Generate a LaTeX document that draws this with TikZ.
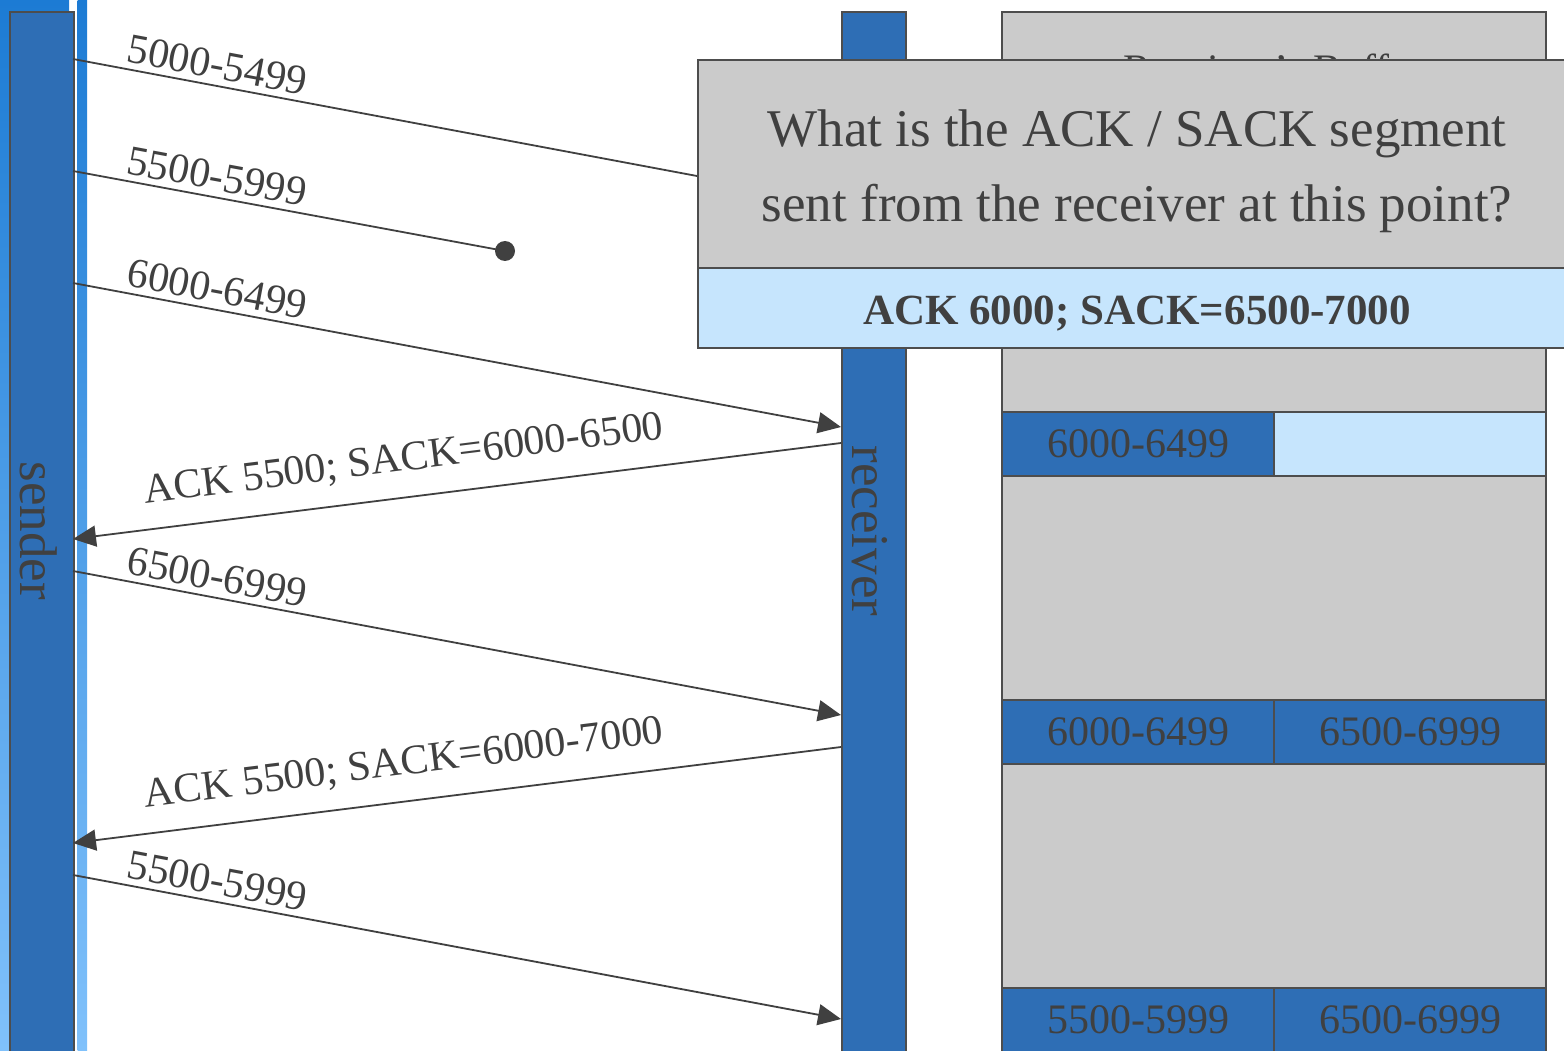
\documentclass[tikz,border=0pt]{standalone}
\usepackage{fontspec}
\setmainfont{Liberation Serif}
\usetikzlibrary{arrows.meta,calc}
\definecolor{barblue}{HTML}{2E6EB5}
\definecolor{bufgray}{HTML}{CBCBCB}
\definecolor{lightblue}{HTML}{C6E5FD}
\definecolor{txt}{HTML}{404040}
\definecolor{edgec}{HTML}{4D4D4D}
\definecolor{bgtop}{HTML}{1C7BD4}
\definecolor{bgbot}{HTML}{80C1FB}
\begin{document}
\begin{tikzpicture}[x=1pt,y=-1pt,
  bar/.style={draw=edgec, line width=2pt, fill=barblue, minimum width=64pt, minimum height=1100pt, inner sep=0pt, anchor=north west},
  msg/.style={draw=txt, line width=1.8pt, -{Triangle[length=23pt,width=21pt]}},
  ack/.style={draw=txt, line width=1.8pt, {Triangle[length=23pt,width=21pt]}-},
  plain/.style={draw=txt, line width=1.8pt},
  lbl/.style={font=\fontsize{42}{50}\selectfont, text=txt, inner sep=0pt},
  vlbl/.style={font=\fontsize{53}{60}\selectfont, text=txt, inner sep=0pt, rotate=-90},
  slbl/.style={lbl, sloped, above=6pt},
  albl/.style={lbl, sloped, above=19pt},
  box/.style={draw=edgec, line width=2pt, inner sep=0pt, anchor=north west},
  cell/.style={box, fill=barblue, minimum width=272pt, minimum height=64pt, font=\fontsize{42}{50}\selectfont, text=txt},
  ecell/.style={box, fill=lightblue, minimum width=272pt, minimum height=64pt},
  qtext/.style={font=\fontsize{53}{60}\selectfont, text=txt, inner sep=0pt, anchor=base},
]
\clip (0,0) rectangle (1564,1051);
% slide background strips
\shade[top color=bgtop, bottom color=bgbot] (0,0) rectangle (69,1051);
\shade[top color=bgtop, bottom color=bgbot] (77.5,0) rectangle (87,1051);

% lifelines
\node[bar] (sender) at (9,11) {};
\node[bar] (receiver) at (841,11) {};
\node[vlbl] (senderlbl) at (39,531) {sender};
\node[vlbl] (receiverlbl) at (870,531) {receiver};

% receiver's buffer
\node[box, fill=bufgray, minimum width=544pt, minimum height=1100pt] (buffer) at (1001,11) {};
\node[lbl, anchor=base] (buftitle) at (1273,84) {Receiver’s Buffer};
\node[cell] (c1a) at (1001,411) {6000-6499};
\node[ecell] (c1b) at (1273,411) {};
\node[cell] (c2a) at (1001,699) {6000-6499};
\node[cell] (c2b) at (1273,699) {6500-6999};
\node[cell] (c3a) at (1001,987) {5500-5999};
\node[cell] (c3b) at (1273,987) {6500-6999};

% end points
\coordinate (s1) at (73,59);   \coordinate (r1) at (841,203);
\coordinate (s2) at (73,171);
\coordinate (s3) at (73,283);  \coordinate (r3) at (841,427);
\coordinate (s4) at (73,539);  \coordinate (r4) at (841,443);
\coordinate (s5) at (73,571);  \coordinate (r5) at (841,715);
\coordinate (s6) at (73,843);  \coordinate (r6) at (841,747);
\coordinate (s7) at (73,875);  \coordinate (r7) at (841,1019);
\node[circle, fill=txt, minimum size=20pt, inner sep=0pt] (lost) at (505,251) {};

% messages
\draw[msg] (s1) -- node[slbl, pos=0.183] {5000-5499} (r1);
\draw[plain] (s2) -- node[slbl, pos=0.325] {5500-5999} (lost.center);
\draw[msg] (s3) -- node[slbl, pos=0.183] {6000-6499} (r3);
\draw[ack] (s4) -- node[albl, pos=0.437] {ACK 5500; SACK=6000-6500} (r4);
\draw[msg] (s5) -- node[slbl, pos=0.183] {6500-6999} (r5);
\draw[ack] (s6) -- node[albl, pos=0.437] {ACK 5500; SACK=6000-7000} (r6);
\draw[msg] (s7) -- node[slbl, pos=0.183] {5500-5999} (r7);

% question pop-up
\node[box, fill=bufgray, minimum width=882pt, minimum height=208pt] (popup) at (697,59) {};
\node[qtext] (q1) at (1137,147) {What is the ACK / SACK segment};
\node[qtext] (q2) at (1137,222) {sent from the receiver at this point?};
\node[box, fill=lightblue, minimum width=882pt, minimum height=80pt] (answer) at (697,267) {};
\node[lbl, font=\fontsize{43}{50}\selectfont\bfseries, anchor=base] (answertext) at (1137,324) {ACK 6000; SACK=6500-7000};
\end{tikzpicture}
\end{document}
